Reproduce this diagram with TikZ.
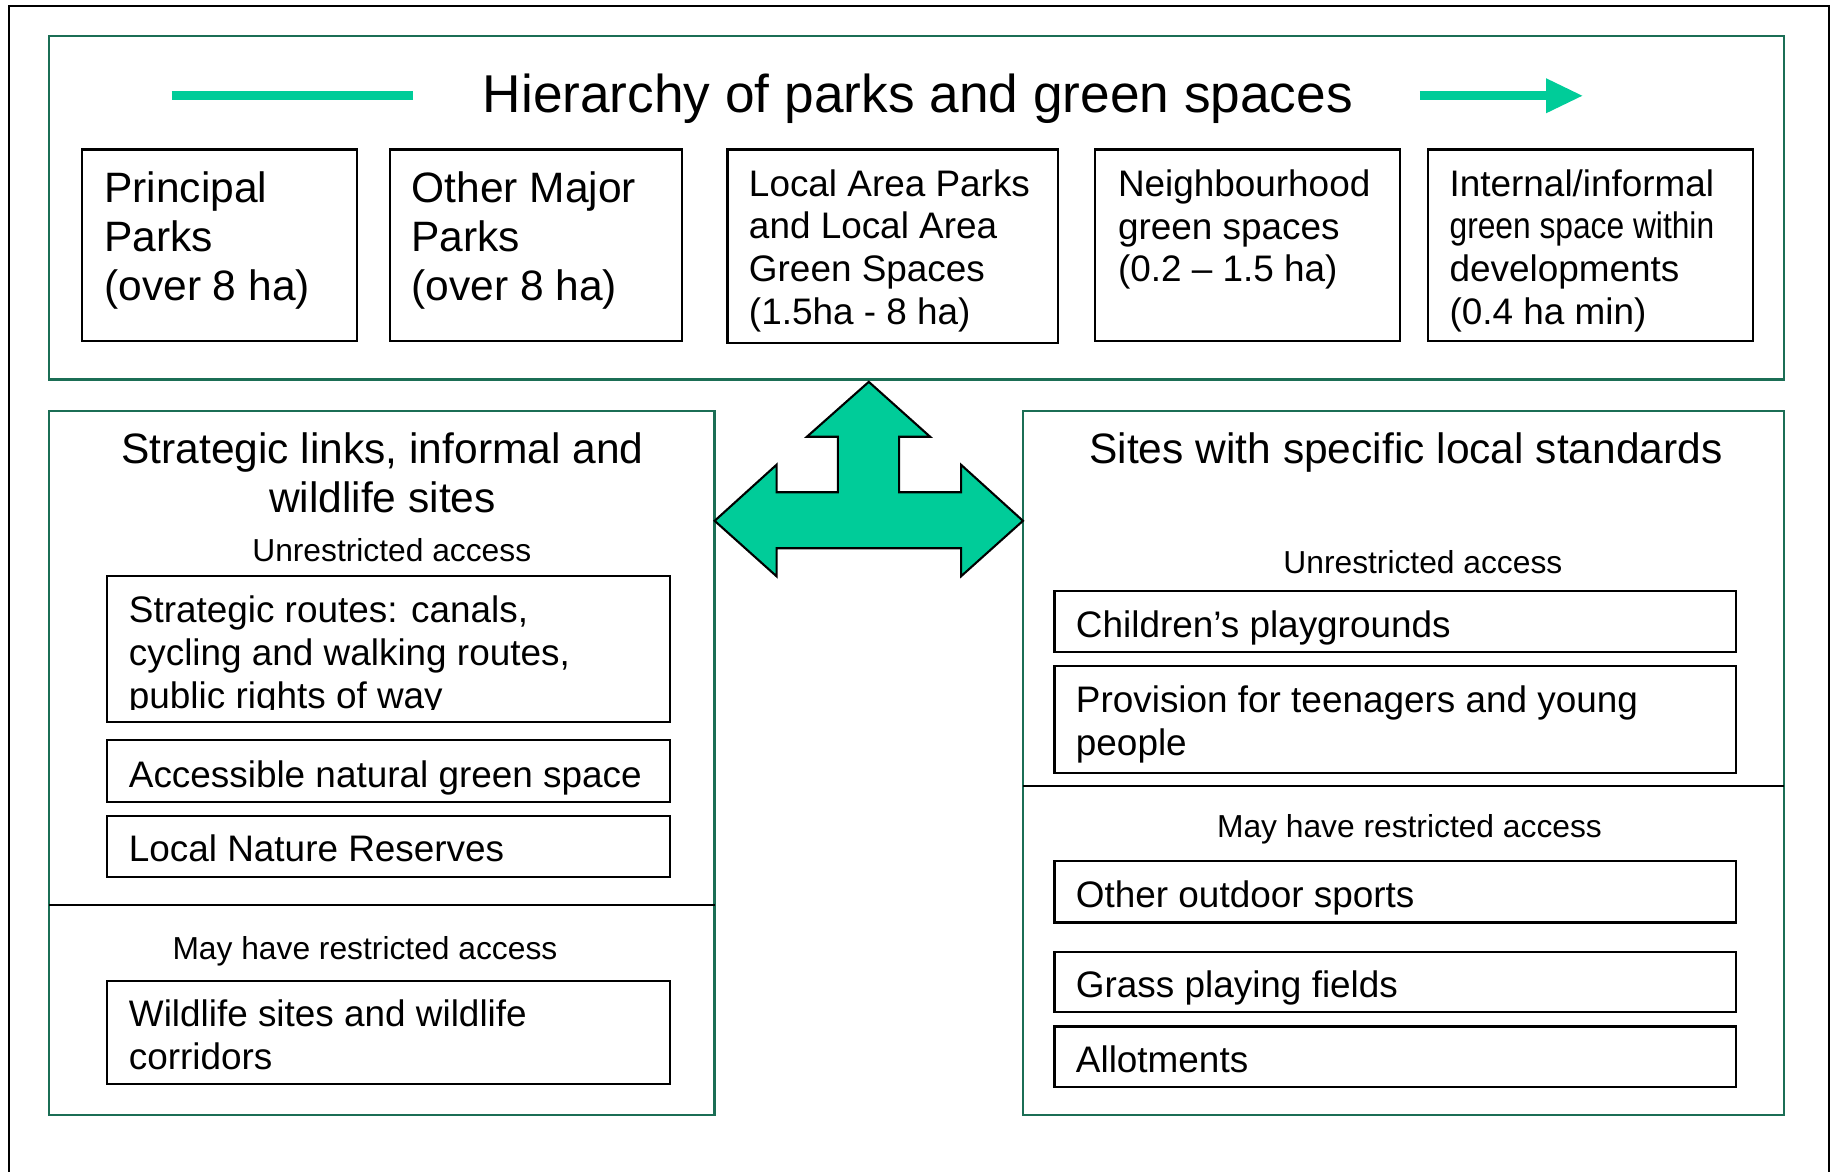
\documentclass[tikz,border=0pt]{standalone}
\usepackage{fontspec}
\usepackage{graphicx}
\setmainfont{Liberation Sans}
\usetikzlibrary{fit}
\definecolor{gborder}{HTML}{1B6E55}
\definecolor{gfill}{HTML}{00CC99}
\begin{document}
\begin{tikzpicture}[x=0.5pt,y=-0.5pt,
  gframe/.style={draw=gborder, line width=1pt, inner sep=0pt},
  ibox/.style={draw=black, line width=0.9pt, inner sep=0pt},
  bigtxt/.style={font=\fontsize{18.2}{21}\selectfont, align=left, anchor=base west, inner sep=0pt},
  medtxt/.style={font=\fontsize{15.8}{18.35}\selectfont, align=left, anchor=base west, inner sep=0pt},
  smalltxt/.style={font=\fontsize{13.6}{16}\selectfont, anchor=base, inner sep=0pt},
  sectxt/.style={font=\fontsize{18.2}{21}\selectfont, align=center, anchor=base, inner sep=0pt},
  titletxt/.style={font=\fontsize{22.8}{26}\selectfont, anchor=base, inner sep=0pt},
  divider/.style={draw=black, line width=0.9pt},
  bigarrow/.style={fill=gfill, draw=black, line width=0.9pt, line join=miter},
  tline/.style={draw=gfill, line width=4pt}
]
\clip (0,0) rectangle (1568,1003);
\useasboundingbox (0,0) rectangle (1568,1003);
% outer frame (bottom edge lies below the picture)
\draw[line width=0.8pt] (8,1020) -- (8,5) -- (1566,5) -- (1566,1020);

% ---------- top panel ----------
\node[gframe, fit={(42,31) (1528,325)}] (top) {};
\node[titletxt] (title) at (786,96) {Hierarchy of parks and green spaces};
\coordinate (tl1) at (147,82);
\coordinate (tl2) at (354,82);
\draw[tline] (tl1) -- (tl2);
\coordinate (tr1) at (1216,82);
\coordinate (tr2) at (1326,82);
\draw[tline] (tr1) -- (tr2);
\fill[gfill] (1324,67) -- (1355,82) -- (1324,97) -- cycle;

% (anchor base = baseline of the last line)
\node[ibox, fit={(70,128) (306,292)}] (b1) {};
\node[bigtxt] (t1) at (89,257) {Principal\\Parks\\(over 8 ha)};
\node[ibox, fit={(334,128) (584,292)}] (b2) {};
\node[bigtxt] (t2) at (352,257) {Other Major\\Parks\\(over 8 ha)};
\node[ibox, fit={(623,128) (906,294)}] (b3) {};
\node[medtxt] (t3) at (641,278) {Local Area Parks\\and Local Area\\Green Spaces\\(1.5ha - 8 ha)};
\node[ibox, fit={(938,128) (1199,292)}] (b4) {};
\node[medtxt] (t4) at (957,241.4) {Neighbourhood\\green spaces\\(0.2 – 1.5 ha)};
\node[ibox, fit={(1223,128) (1501,292)}] (b5) {};
\node[medtxt] (t5) at (1241,278) {Internal/informal\\\scalebox{0.86}[1]{green space within}\\developments\\(0.4 ha min)};

% ---------- left panel ----------
\node[gframe, fit={(42,352) (612,955)}] (left) {};
\node[sectxt] (lt) at (327.5,439) {Strategic links, informal and\\wildlife sites};
\node[smalltxt] (lu) at (335.5,481) {Unrestricted access};
\node[ibox, fit={(92,493) (574,618)}] (l1) {};
\begin{scope}
\clip (92,493) rectangle (574,608);
\node[medtxt] (l1t) at (110,606.4) {Strategic routes: canals,\\cycling and walking routes,\\public rights of way};
\end{scope}
\node[ibox, fit={(92,634) (574,687)}] (l2) {};
\node[medtxt] (l2t) at (110,674) {Accessible natural green space};
\node[ibox, fit={(92,699) (574,751)}] (l3) {};
\node[medtxt] (l3t) at (110,738) {Local Nature Reserves};
\coordinate (ld1) at (42,775);
\coordinate (ld2) at (612,775);
\draw[divider] (ld1) -- (ld2);
\node[smalltxt] (lr) at (312.5,822) {May have restricted access};
\node[ibox, fit={(92,840) (574,928)}] (l4) {};
\node[medtxt] (l4t) at (110,915.7) {Wildlife sites and wildlife\\corridors};

% ---------- right panel ----------
\node[gframe, fit={(876,352) (1528,955)}] (right) {};
\node[sectxt] (rt) at (1204,397) {Sites with specific local standards};
\node[smalltxt] (ru) at (1218.5,491) {Unrestricted access};
\node[ibox, fit={(903,506) (1487,558)}] (r1) {};
\node[medtxt] (r1t) at (921,546) {Children’s playgrounds};
\node[ibox, fit={(903,570) (1487,662)}] (r2) {};
\node[medtxt] (r2t) at (921,646.7) {Provision for teenagers and young\\people};
\coordinate (rd1) at (876,673);
\coordinate (rd2) at (1528,673);
\draw[divider] (rd1) -- (rd2);
\node[smalltxt] (rr) at (1207,717) {May have restricted access};
\node[ibox, fit={(903,737) (1487,790)}] (r3) {};
\node[medtxt] (r3t) at (921,777) {Other outdoor sports};
\node[ibox, fit={(903,815) (1487,867)}] (r4) {};
\node[medtxt] (r4t) at (921,854) {Grass playing fields};
\node[ibox, fit={(903,879) (1487,931)}] (r5) {};
\node[medtxt] (r5t) at (921,918) {Allotments};

% ---------- three-way arrow ----------
\draw[bigarrow] (744,327) -- (796.5,374) -- (770,374) -- (770,421.5)
  -- (823,421.5) -- (823,398) -- (876,446) -- (823,493.5) -- (823,469.5)
  -- (665,469.5) -- (665,493.5) -- (612,446) -- (665,398) -- (665,421.5)
  -- (717.5,421.5) -- (717.5,374) -- (691,374) -- cycle;
\end{tikzpicture}
\end{document}
